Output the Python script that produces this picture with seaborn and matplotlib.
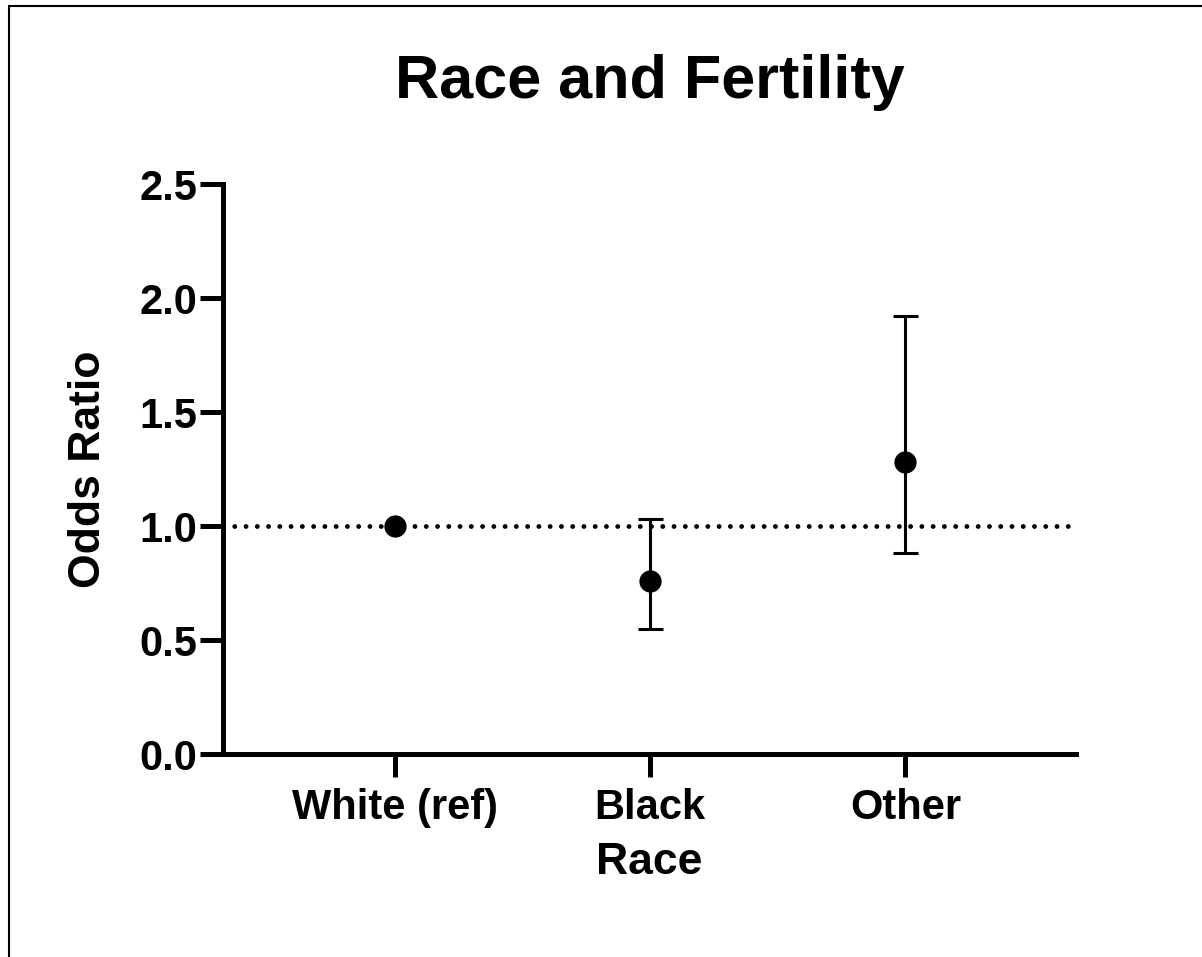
import matplotlib
matplotlib.use('Agg')
import matplotlib.pyplot as plt
from matplotlib.patches import Rectangle
import seaborn as sns
import pandas as pd

# dados
race = ['White (ref)', 'Black', 'Other']
odds_ratio = [1.00, 0.76, 1.28]
ci_lower = [1.00, 0.55, 0.88]
ci_upper = [1.00, 1.03, 1.92]
y_ticks = [0.0, 0.5, 1.0, 1.5, 2.0, 2.5]

sns.set_style('ticks', {'axes.edgecolor': 'black', 'text.color': 'black',
                        'axes.labelcolor': 'black', 'xtick.color': 'black',
                        'ytick.color': 'black'})
plt.rcParams['font.family'] = ['Liberation Sans', 'DejaVu Sans']
plt.rcParams['font.weight'] = 'bold'
plt.rcParams['lines.scale_dashes'] = False

df = pd.DataFrame({'Race': race, 'OR': odds_ratio, 'low': ci_lower, 'high': ci_upper})
df['pos'] = range(len(df))

fig = plt.figure(figsize=(12.02, 9.57), dpi=100)
ax = fig.add_axes([223 / 1202, 1 - 754 / 957, (1076 - 223) / 1202, (754 - 184) / 957])

sns.scatterplot(data=df, x='pos', y='OR', color='black', s=16 ** 2,
                edgecolor='black', linewidth=0, ax=ax, zorder=3)

# linha de referencia em 1.0
ax.axhline(1.0, xmin=0, xmax=0.991, color='black', lw=3.5,
           linestyle=(0, (0.01, 8.1)), dash_capstyle='round', zorder=1)

# intervalos de confianca
com_ic = df[df['high'] > df['low']]
ax.errorbar(com_ic['pos'], com_ic['OR'],
            yerr=[com_ic['OR'] - com_ic['low'], com_ic['high'] - com_ic['OR']],
            fmt='none', ecolor='black', elinewidth=2.2, capsize=9, capthick=2.2, zorder=2)

ax.set_xlim(-0.6745, 2.669)
ax.set_ylim(0, 2.5)
ax.set_xticks(df['pos'])
ax.set_xticklabels(race)
ax.set_yticks(y_ticks)
ax.set_yticklabels([f'{v:.1f}' for v in y_ticks])

for s in ['top', 'right']:
    ax.spines[s].set_visible(False)
for s in ['left', 'bottom']:
    ax.spines[s].set_linewidth(3.6)
    ax.spines[s].set_capstyle('projecting')
ax.tick_params(axis='both', length=16.5, width=3.6, labelsize=30, color='black')
ax.tick_params(axis='y', pad=2)
ax.tick_params(axis='x', pad=8)

ax.set_title('Race and Fertility', fontsize=44, fontweight='bold', pad=62)
ax.set_xlabel('Race', fontsize=32, fontweight='bold')
ax.set_ylabel('Odds Ratio', fontsize=32, fontweight='bold')
ax.xaxis.set_label_coords(0.5, -0.155)
ax.yaxis.set_label_coords(-0.134, 0.5)

# moldura da figura
fig.add_artist(Rectangle((9 / 1202, -0.05), 1.1, 1 - 6 / 957 + 0.05,
                         transform=fig.transFigure, fill=False, lw=1.5,
                         edgecolor='black'))

fig.savefig('out.png', dpi=100)
